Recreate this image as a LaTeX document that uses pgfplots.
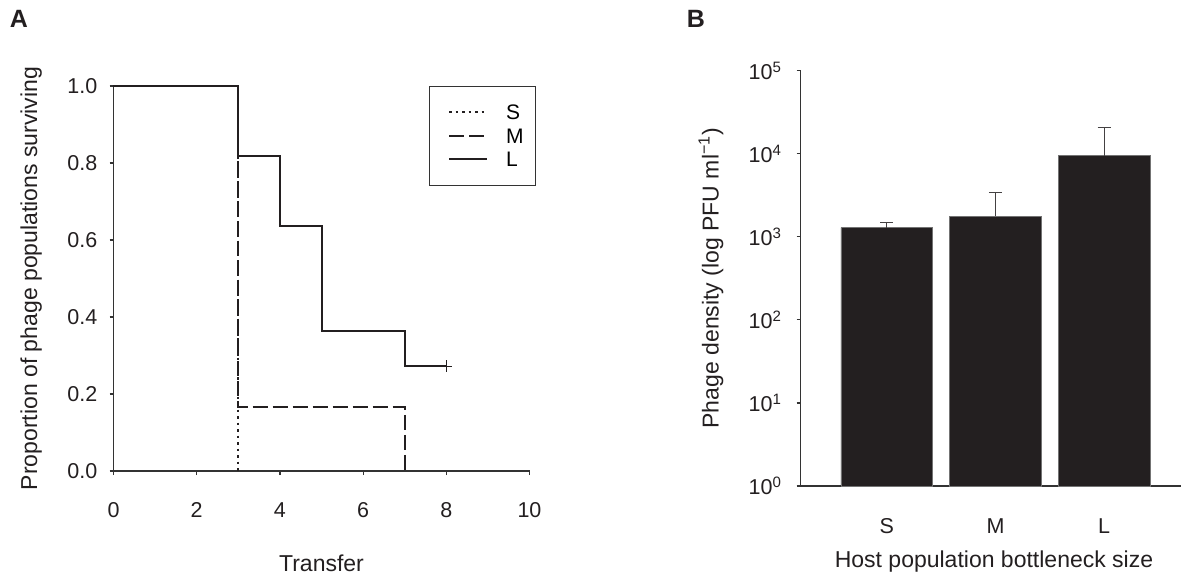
\documentclass[border=0pt]{standalone}
\usepackage{pgfplots}
\pgfplotsset{compat=1.18}
\usepackage{fontspec}
\setmainfont{Liberation Sans}
\definecolor{barfill}{HTML}{231F20}
\definecolor{ink}{HTML}{231F20}
\definecolor{axisink}{HTML}{333333}
\newcommand{\fst}{\fontsize{21.5}{25}\selectfont}
\newcommand{\fsl}{\fontsize{23}{27}\selectfont}
\newcommand{\fsg}{\fontsize{21}{24}\selectfont}
\pgfplotsset{
  every tick label/.append style={font=\fst, ink},
  every axis label/.append style={font=\fsl, ink},
  /pgf/number format/assume math mode=true,
}
\begin{document}
\begin{tikzpicture}
\path[use as bounding box] (0pt,0pt) rectangle (1181pt,-577pt);
\node[font=\fontsize{25}{28}\selectfont\bfseries, ink] at (19pt,-19pt) {A};
\node[font=\fontsize{25}{28}\selectfont\bfseries, ink] at (696pt,-19pt) {B};

% Panel A
\begin{axis}[
  at={(113.5pt,-471pt)}, anchor=south west,
  scale only axis, width=416pt, height=385pt,
  xmin=0, xmax=10, ymin=0, ymax=1,
  axis x line*=bottom, axis y line*=left,
  axis line style={axisink, line width=1.3pt},
  tick align=outside, major tick length=4pt,
  tick style={axisink, line width=1.2pt},
  xtick={0,2,4,6,8,10},
  ytick={0,0.2,0.4,0.6,0.8,1.0},
  yticklabel style={/pgf/number format/fixed, /pgf/number format/fixed zerofill, /pgf/number format/precision=1,
    anchor=east, inner sep=0pt, xshift=-12pt},
  xticklabel style={anchor=center, yshift=-35pt},
  xlabel={Transfer},
  ylabel={Proportion of phage populations surviving},
  xlabel style={at={(axis description cs:0.5,-0.239)}, anchor=center},
  ylabel style={at={(axis description cs:-0.198,0.5)}, anchor=center},
  clip=false,
  legend cell align=left,
  legend style={at={(rel axis cs:0.759,1)}, anchor=north west, draw=axisink, line width=1pt,
    font=\fsg, inner xsep=12pt, inner ysep=18.5pt, row sep=9pt, column sep=18pt,
    nodes={inner sep=0pt, text depth=0pt}},
  legend image code/.code={\path (0pt,0pt); \draw[#1] (6.5pt,0pt) -- (44.5pt,0pt);},
]
\addplot[const plot, ink, line width=1.7pt, dash pattern=on 2.5pt off 4pt] coordinates {(0,1) (3,1) (3,0)};
\addlegendentry{S}
\addplot[const plot, ink, line width=1.8pt, dash pattern=on 15pt off 5pt] coordinates {(0,1) (3,0.1667) (7,0) (7,0)};
\addlegendentry{M}
\addplot[const plot, ink, line width=2pt] coordinates {(0,1) (3,0.8182) (4,0.6364) (5,0.3636) (7,0.2727) (8,0.2727)};
\addlegendentry{L}
\addplot[only marks, mark=+, mark size=6pt, ink, mark options={line width=1pt}, forget plot] coordinates {(8,0.2727)};
\end{axis}

% Panel B
\begin{axis}[
  at={(800.7pt,-486pt)}, anchor=south west,
  scale only axis, width=389.3pt, height=415.3pt,
  xmin=0.209, xmax=3.789,
  ymode=log, ymin=1, ymax=100000,
  axis x line*=bottom, axis y line*=left,
  axis line style={axisink, line width=1.3pt},
  tick align=outside, major tick length=4pt,
  tick style={axisink, line width=1.2pt},
  yminorticks=false,
  xtick={1,2,3}, xticklabels={S,M,L},
  xtick style={draw=none},
  ytick={1,10,100,1000,10000,100000},
  yticklabels={10\textsuperscript{0},10\textsuperscript{1},10\textsuperscript{2},10\textsuperscript{3},10\textsuperscript{4},10\textsuperscript{5}},
  xticklabel style={anchor=center, yshift=-36pt},
  yticklabel style={anchor=east, inner sep=0pt, xshift=-15pt},
  xlabel={Host population bottleneck size},
  ylabel={Phage density (log PFU ml\textsuperscript{−1})},
  xlabel style={at={(axis description cs:0.4965,-0.183)}, anchor=center},
  ylabel style={at={(axis description cs:-0.2304,0.5)}, anchor=center},
  clip=false,
]
\addplot[ybar, bar width=91.5pt, fill=barfill, draw=black!55, line width=0.7pt]
  coordinates {(1,1288) (2,1766) (3,9480)};
% error bars (upper only)
\addplot[ink!85, line width=1.3pt] coordinates {(1,1288) (1,1496)};
\addplot[ink!85, line width=1.3pt] coordinates {(0.94,1496) (1.06,1496)};
\addplot[ink!85, line width=1.3pt] coordinates {(2,1766) (2,3398)};
\addplot[ink!85, line width=1.3pt] coordinates {(1.94,3398) (2.06,3398)};
\addplot[ink!85, line width=1.3pt] coordinates {(3,9480) (3,20830)};
\addplot[ink!85, line width=1.3pt] coordinates {(2.94,20830) (3.06,20830)};
\end{axis}
\end{tikzpicture}
\end{document}
